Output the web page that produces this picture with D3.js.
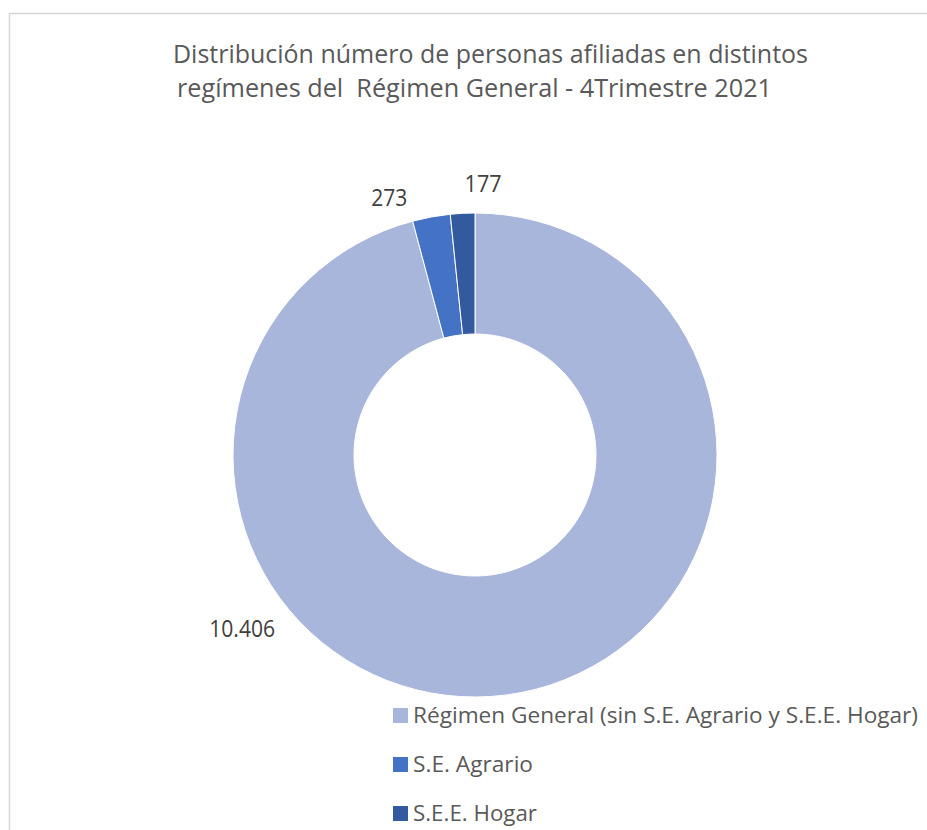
<!DOCTYPE html>
<html>
<head>
<meta charset="utf-8">
<script src="https://cdn.jsdelivr.net/npm/d3@7"></script>
<style>
  html, body { margin: 0; padding: 0; background: #fff; }
  svg { display: block; }
</style>
</head>
<body>
<svg id="chart" width="927" height="830"></svg>
<script>
// ---- Data ----
const categories = ["Régimen General (sin S.E. Agrario y S.E.E. Hogar)", "S.E. Agrario", "S.E.E. Hogar"];
const values = [10406, 273, 177];
const valueLabels = ["10.406", "273", "177"];
const titleLines = ["Distribución número de personas afiliadas en distintos", "regímenes del  Régimen General - 4Trimestre 2021"];
const colors = ["#A9B6DB", "#4472C4", "#335A9F"];

const svg = d3.select("#chart");
const font = "'Open Sans', 'Noto Sans', sans-serif";

// frame
svg.append("rect")
  .attr("x", 9.5).attr("y", 13.5).attr("width", 940).attr("height", 840)
  .attr("fill", "none").attr("stroke", "#d6d6d6").attr("stroke-width", 1.5);

function fit(sel, w) {
  sel.attr("textLength", w).attr("lengthAdjust", "spacingAndGlyphs");
}

// title (two lines)
const titleX = [173, 177];
const titleY = [62.5, 97];
const titleW = [635, 595];
const title = svg.append("text")
  .attr("font-family", font).attr("font-size", 25).attr("fill", "#595959")
  .attr("xml:space", "preserve")
  .style("white-space", "pre");
titleLines.forEach((t, i) => {
  title.append("tspan")
    .attr("x", titleX[i]).attr("y", titleY[i])
    .text(t)
    .call(fit, titleW[i]);
});

// donut
const cx = 475, cy = 455, rOuter = 242, rInner = 121;
const pie = d3.pie().sort(null).value(d => d).startAngle(0).endAngle(2 * Math.PI);
const arcs = pie(values);
const arc = d3.arc().innerRadius(rInner).outerRadius(rOuter);
const g = svg.append("g").attr("transform", `translate(${cx},${cy})`);
g.selectAll("path").data(arcs).enter().append("path")
  .attr("d", arc)
  .attr("fill", (d, i) => colors[i])
  .attr("stroke", "#fff").attr("stroke-width", 1);

// data labels: best-fit style placement (angle in degrees clockwise from top, radius)
const labelAngle = [233.4, 341.6, 1.7];
const labelRadius = [290, 272, 272];
const labelWidths = [66, 36, 37];
arcs.forEach((a, i) => {
  const ang = labelAngle[i] * Math.PI / 180;
  const x = Math.sin(ang) * labelRadius[i];
  const y = -Math.cos(ang) * labelRadius[i];
  g.append("text")
    .attr("x", x).attr("y", y)
    .attr("text-anchor", "middle").attr("dominant-baseline", "central")
    .attr("font-family", font).attr("font-size", 23).attr("fill", "#404040")
    .text(valueLabels[i])
    .call(fit, labelWidths[i]);
});

// legend
const legX = 393, legY0 = 708, legStep = 49;
const legW = [505, 120, 124];
categories.forEach((c, i) => {
  const y = legY0 + i * legStep;
  svg.append("rect").attr("x", legX).attr("y", y).attr("width", 15).attr("height", 15).attr("fill", colors[i]);
  svg.append("text")
    .attr("x", 413).attr("y", y + 15)
    .attr("font-family", font).attr("font-size", 22).attr("fill", "#595959")
    .text(c)
    .call(fit, legW[i]);
});
</script>
</body>
</html>
